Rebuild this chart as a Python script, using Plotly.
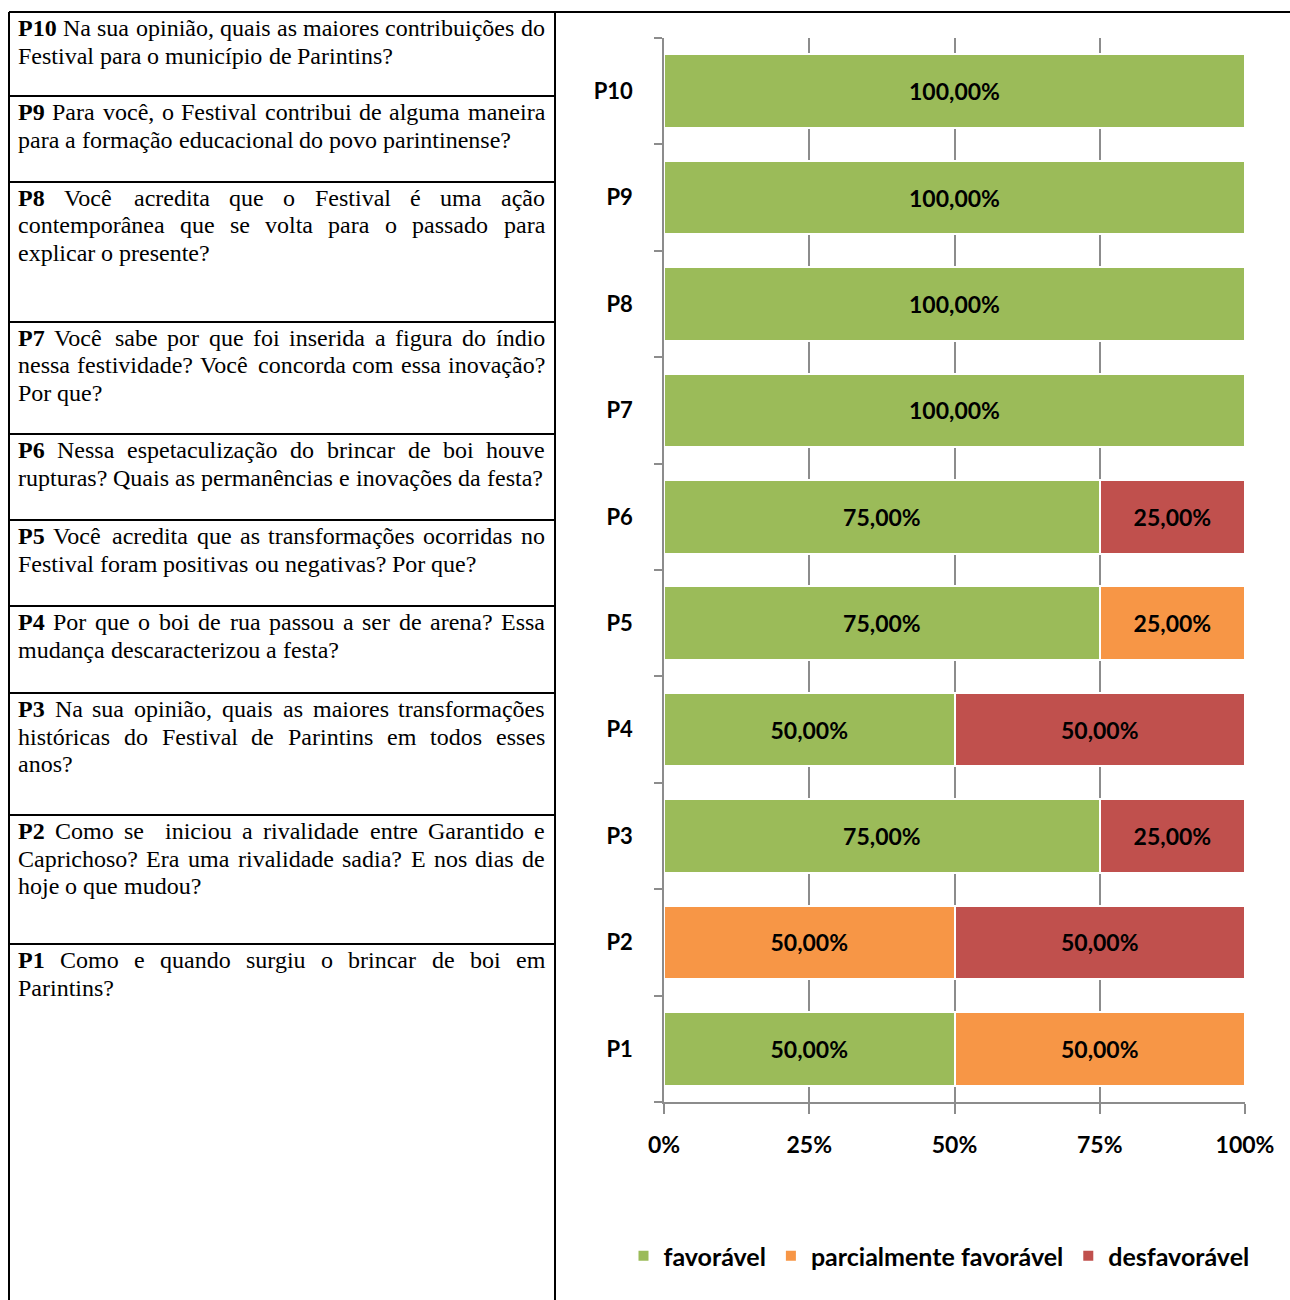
import plotly.graph_objects as go

W, H = 1290, 1300

categories = ["P1", "P2", "P3", "P4", "P5", "P6", "P7", "P8", "P9", "P10"]
favoravel = [50, 0, 75, 50, 75, 75, 100, 100, 100, 100]
parcial = [50, 50, 0, 0, 25, 0, 0, 0, 0, 0]
desfavoravel = [0, 50, 25, 50, 0, 25, 0, 0, 0, 0]
series_names = ["favorável", "parcialmente favorável", "desfavorável"]
series_colors = ["#9BBB59", "#F79646", "#C0504D"]
x_ticks = [0, 25, 50, 75, 100]
x_tick_labels = ["0%", "25%", "50%", "75%", "100%"]

# question table: (tag, lines as in the reference)
questions = [
    ("P10", ["Na sua opinião, quais as maiores contribuições do",
             "Festival para o município de Parintins?"]),
    ("P9", ["Para você, o Festival contribui de alguma maneira",
            "para a formação educacional do povo parintinense?"]),
    ("P8", ["Você acredita que o Festival é uma ação",
            "contemporânea que se volta para o passado para",
            "explicar o presente?"]),
    ("P7", ["Você sabe por que foi inserida a figura do índio",
            "nessa festividade? Você concorda com essa inovação?",
            "Por que?"]),
    ("P6", ["Nessa espetaculização do brincar de boi houve",
            "rupturas? Quais as permanências e inovações da festa?"]),
    ("P5", ["Você acredita que as transformações ocorridas no",
            "Festival foram positivas ou negativas? Por que?"]),
    ("P4", ["Por que o boi de rua passou a ser de arena? Essa",
            "mudança descaracterizou a festa?"]),
    ("P3", ["Na sua opinião, quais as maiores transformações",
            "históricas do Festival de Parintins em todos esses",
            "anos?"]),
    ("P2", ["Como se  iniciou a rivalidade entre Garantido e",
            "Caprichoso? Era uma rivalidade sadia? E nos dias de",
            "hoje o que mudou?"]),
    ("P1", ["Como e quando surgiu o brincar de boi em",
            "Parintins?"]),
]
row_tops = [12, 96, 182, 322, 434, 520, 606, 693, 815, 944]

# ---- layout helpers ----
FS = 24
LINE_H = 27.5
TXT_L, TXT_R = 18, 545

TIMES = {' ': 250, ',': 250, '.': 250, '?': 444, '%': 833,
         'A': 722, 'B': 667, 'C': 667, 'D': 722, 'E': 611, 'F': 556, 'G': 722, 'H': 722, 'I': 333,
         'J': 389, 'K': 722, 'L': 611, 'M': 889, 'N': 722, 'O': 722, 'P': 556, 'Q': 722, 'R': 667,
         'S': 556, 'T': 611, 'U': 722, 'V': 722, 'W': 944, 'X': 722, 'Y': 722, 'Z': 611,
         'a': 444, 'b': 500, 'c': 444, 'd': 500, 'e': 444, 'f': 333, 'g': 500, 'h': 500, 'i': 278,
         'j': 278, 'k': 500, 'l': 278, 'm': 778, 'n': 500, 'o': 500, 'p': 500, 'q': 500, 'r': 333,
         's': 389, 't': 278, 'u': 500, 'v': 500, 'w': 722, 'x': 500, 'y': 500, 'z': 444}
ACC = {'á': 'a', 'à': 'a', 'â': 'a', 'ã': 'a', 'ç': 'c', 'é': 'e', 'ê': 'e', 'í': 'i',
       'ó': 'o', 'ô': 'o', 'õ': 'o', 'ú': 'u'}
TIMES_B = {'P': 611}


def word_w(word, bold=False):
    tot = 0
    for ch in word:
        if bold and ch in TIMES_B:
            tot += TIMES_B[ch]
        elif ch.isdigit():
            tot += 500
        else:
            tot += TIMES.get(ACC.get(ch, ch), 500)
    return tot * FS / 1000


def px(x):
    return x / W


def py(y):
    return 1 - y / H


def fmt(v):
    return (f"{v:.2f}".replace(".", ",") + "%") if v else ""


fig = go.Figure()
for name, vals, col in zip(series_names, [favoravel, parcial, desfavoravel], series_colors):
    fig.add_trace(go.Bar(
        y=categories, x=vals, name=name, orientation="h",
        marker=dict(color=col, line=dict(color="white", width=2)),
        text=[fmt(v) for v in vals], textposition="inside",
        insidetextanchor="middle", textangle=0,
        textfont=dict(family="Lato", size=23, color="black", weight="bold"),
        hoverinfo="skip",
    ))

shapes = []
shapes.append(dict(type="line", xref="paper", yref="paper", x0=px(9), x1=px(1290), y0=py(12), y1=py(12),
                   line=dict(color="black", width=2)))
for xv in [9, 555]:
    shapes.append(dict(type="line", xref="paper", yref="paper", x0=px(xv), x1=px(xv), y0=py(12), y1=py(1300),
                       line=dict(color="black", width=2)))
for yv in row_tops[1:]:
    shapes.append(dict(type="line", xref="paper", yref="paper", x0=px(9), x1=px(555), y0=py(yv), y1=py(yv),
                       line=dict(color="black", width=2)))

annotations = []
for (tag, lines), top in zip(questions, row_tops):
    for li, line in enumerate(lines):
        words = [(w, False) for w in line.split(" ")]
        if li == 0:
            words = [(tag, True)] + words
        widths = [word_w(w, b) for w, b in words]
        last = li == len(lines) - 1
        n_gaps = len(words) - 1
        if last or n_gaps == 0:
            gap = 0.25 * FS
        else:
            gap = (TXT_R - TXT_L - sum(widths)) / n_gaps
        xcur = TXT_L
        yc = top + 16 + li * LINE_H
        for (w, b), ww in zip(words, widths):
            if w:
                annotations.append(dict(
                    xref="paper", yref="paper", x=px(xcur), y=py(yc), xanchor="left", yanchor="middle",
                    showarrow=False, borderpad=0, borderwidth=0,
                    text=f"<b>{w}</b>" if b else w,
                    font=dict(family="Liberation Serif", size=FS, color="black"),
                ))
            xcur += ww + gap

fig.update_layout(
    width=W, height=H, autosize=False,
    margin=dict(l=0, r=0, t=0, b=0, autoexpand=False),
    paper_bgcolor="white", plot_bgcolor="white",
    barmode="stack", bargap=0.31,
    separators=",.",
    showlegend=True,
    legend=dict(orientation="h", x=px(939), xanchor="center", y=py(1256), yanchor="middle",
                font=dict(family="Lato", size=25, color="black", weight="bold"),
                itemwidth=30, traceorder="normal"),
    shapes=shapes, annotations=annotations,
    xaxis=dict(domain=[px(664), px(1245)], range=[0, 100], tickvals=x_ticks, ticktext=x_tick_labels,
               automargin=False,
               showgrid=True, gridcolor="#8C8C8C", gridwidth=1.5, zeroline=False,
               showline=True, linecolor="#8C8C8C", linewidth=1.5,
               ticks="outside", ticklen=10, tickcolor="#8C8C8C", tickwidth=1.5,
               ticklabelstandoff=12,
               tickfont=dict(family="Lato", size=23, color="black", weight="bold")),
    yaxis=dict(domain=[py(1102), py(38)], categoryorder="array", categoryarray=categories,
               automargin=False,
               showgrid=False, zeroline=False, showline=True, linecolor="#8C8C8C", linewidth=1.5,
               ticks="outside", ticklen=8, tickcolor="#8C8C8C", tickwidth=1.5, tickson="boundaries",
               ticklabelstandoff=25,
               tickfont=dict(family="Lato", size=22, color="black", weight="bold")),
)

fig.write_html("out.html")
